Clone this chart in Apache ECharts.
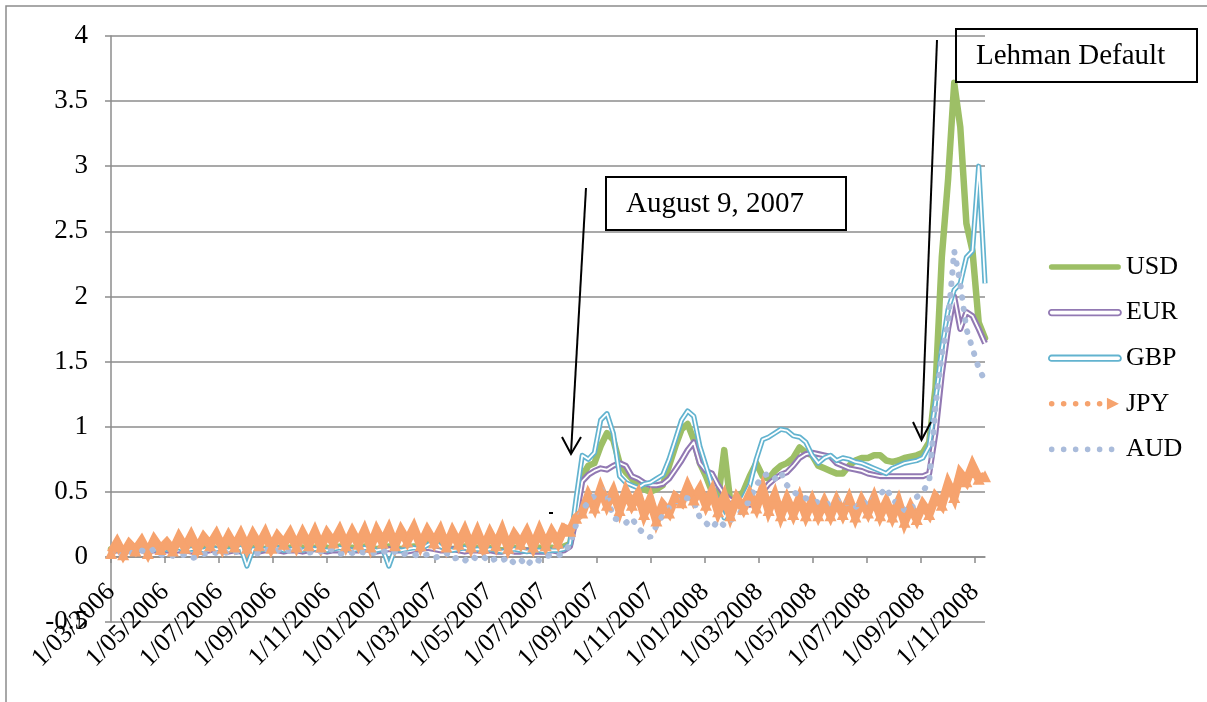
<!DOCTYPE html>
<html>
<head>
<meta charset="utf-8">
<title>Spreads 2006-2008</title>
<script src="https://cdn.jsdelivr.net/npm/echarts@6/dist/echarts.min.js"></script>
<style>
html,body{margin:0;padding:0;background:#fff;}
#chart{width:1207px;height:702px;}
</style>
</head>
<body>
<div id="chart"></div>
<script>
/* weekly observations, first one on 1 March 2006 */
var startYear = 2006, startMonth = 2, startDay = 1;
var weekCount = 142;

var tickLabels = ['1/03/2006','1/05/2006','1/07/2006','1/09/2006','1/11/2006','1/01/2007','1/03/2007',
	'1/05/2007','1/07/2007','1/09/2007','1/11/2007','1/01/2008','1/03/2008','1/05/2008','1/07/2008',
	'1/09/2008','1/11/2008'];

var usd = [0.06,0.07,0.05,0.08,0.06,0.07,0.06,0.08,0.07,0.06,
	0.07,0.06,0.08,0.07,0.06,0.07,0.08,0.06,0.07,0.08,
	0.07,0.06,0.08,0.07,0.07,0.06,0.08,0.07,0.06,0.07,
	0.08,0.07,0.06,0.07,0.08,0.07,0.06,0.08,0.07,0.07,
	0.06,0.08,0.07,0.06,0.07,0.08,0.07,0.06,0.07,0.08,
	0.07,0.1,0.12,0.09,0.07,0.06,0.07,0.08,0.06,0.07,
	0.06,0.07,0.06,0.05,0.06,0.07,0.06,0.05,0.06,0.07,
	0.06,0.07,0.06,0.08,0.1,0.35,0.62,0.7,0.72,0.85,
	0.95,0.9,0.72,0.65,0.6,0.55,0.52,0.5,0.52,0.55,
	0.7,0.85,0.98,1.02,0.9,0.72,0.62,0.5,0.45,0.82,
	0.42,0.45,0.5,0.62,0.72,0.62,0.6,0.66,0.7,0.72,
	0.76,0.84,0.8,0.78,0.7,0.68,0.66,0.64,0.64,0.7,
	0.74,0.76,0.76,0.78,0.78,0.74,0.73,0.74,0.76,0.77,
	0.78,0.8,0.88,1.3,2.3,2.9,3.64,3.3,2.56,2.35,
	1.8,1.68];

var eur = [0.04,0.05,0.04,0.05,0.06,0.05,0.04,0.05,0.04,0.05,
	0.04,0.05,0.05,0.04,0.05,0.04,0.05,0.06,0.05,0.04,
	0.05,0.04,0.05,0.05,0.04,0.05,0.06,0.05,0.04,0.05,
	0.05,0.04,0.05,0.06,0.05,0.04,0.05,0.05,0.06,0.05,
	0.05,0.06,0.05,0.04,0.05,0.06,0.05,0.05,0.04,0.05,
	0.06,0.07,0.06,0.05,0.05,0.06,0.05,0.04,0.05,0.05,
	0.04,0.05,0.04,0.04,0.05,0.04,0.04,0.05,0.04,0.04,
	0.04,0.05,0.04,0.05,0.08,0.3,0.58,0.63,0.66,0.68,
	0.67,0.7,0.72,0.7,0.62,0.6,0.57,0.55,0.55,0.56,
	0.6,0.67,0.74,0.82,0.88,0.72,0.66,0.64,0.55,0.48,
	0.44,0.43,0.42,0.4,0.42,0.5,0.56,0.6,0.63,0.65,
	0.7,0.76,0.79,0.8,0.79,0.78,0.77,0.72,0.7,0.68,
	0.67,0.66,0.64,0.63,0.62,0.62,0.62,0.62,0.62,0.62,
	0.62,0.62,0.64,0.95,1.4,1.75,2.0,1.75,1.88,1.85,
	1.75,1.64];

var gbp = [0.06,0.05,0.07,0.06,0.05,0.06,0.07,0.06,0.05,0.06,
	0.06,0.07,0.05,0.06,0.06,0.05,0.07,0.06,0.06,0.05,
	0.06,0.07,-0.07,0.06,0.05,0.06,0.06,0.07,0.05,0.06,
	0.06,0.05,0.07,0.06,0.06,0.05,0.06,0.07,0.06,0.05,
	0.06,0.07,0.06,0.05,0.06,-0.07,0.06,0.05,0.06,0.07,
	0.06,0.09,0.12,0.08,0.06,0.05,0.06,0.07,0.05,0.06,
	0.05,0.06,0.05,0.04,0.05,0.06,0.05,0.04,0.05,0.05,
	0.04,0.05,0.05,0.06,0.1,0.45,0.78,0.75,0.8,1.05,
	1.1,0.95,0.62,0.57,0.55,0.53,0.56,0.57,0.6,0.63,
	0.75,0.9,1.05,1.12,1.08,0.85,0.7,0.55,0.42,0.3,
	0.4,0.42,0.45,0.55,0.75,0.9,0.92,0.95,0.98,0.97,
	0.93,0.92,0.88,0.78,0.72,0.76,0.78,0.74,0.76,0.75,
	0.73,0.72,0.7,0.68,0.66,0.64,0.68,0.7,0.72,0.73,
	0.74,0.76,0.85,1.2,1.6,1.9,2.05,2.1,2.3,2.35,
	3.0,2.1];

var jpy = [0.03,0.11,0.02,0.1,0.05,0.12,0.03,0.13,0.06,0.11,
	0.05,0.15,0.07,0.16,0.06,0.15,0.09,0.17,0.07,0.16,
	0.08,0.17,0.07,0.17,0.09,0.18,0.07,0.16,0.1,0.18,
	0.08,0.18,0.09,0.19,0.08,0.18,0.11,0.2,0.09,0.19,
	0.1,0.2,0.08,0.2,0.11,0.21,0.09,0.2,0.12,0.22,
	0.09,0.2,0.11,0.2,0.08,0.19,0.1,0.2,0.08,0.19,
	0.07,0.18,0.09,0.2,0.07,0.17,0.1,0.19,0.08,0.2,
	0.09,0.19,0.11,0.22,0.2,0.3,
	0.34,0.47,0.38,0.52,0.4,0.5,0.36,0.5,0.4,0.48,
	0.33,0.44,0.28,0.4,0.34,0.46,0.42,0.54,0.44,0.52,
	0.4,0.5,0.35,0.46,0.32,0.45,0.37,0.48,0.38,0.52,
	0.36,0.47,0.32,0.44,0.33,0.45,0.32,0.43,0.32,0.42,
	0.32,0.43,0.33,0.44,0.31,0.43,0.34,0.45,0.32,0.42,
	0.31,0.42,0.27,0.38,0.29,0.4,
	0.33,0.46,0.4,0.56,0.46,0.64,0.58,0.7,0.6,0.62];

var aud = [0.02,0.03,0.01,0.04,0.02,0.05,0.03,0.06,0.02,0.0,
	0.01,0.0,0.02,-0.01,0.0,0.02,0.04,0.03,0.05,0.02,
	0.04,0.03,0.05,0.02,0.03,0.06,0.04,0.05,0.07,0.04,
	0.06,0.05,0.03,0.05,0.04,0.07,0.05,0.02,0.04,0.03,
	0.05,0.03,0.02,0.04,0.05,0.02,0.04,0.01,0.03,0.02,
	0.0,0.02,-0.01,0.01,0.03,-0.02,0.0,-0.03,0.01,-0.02,
	0.0,-0.04,-0.01,-0.03,0.0,-0.05,-0.02,-0.07,-0.01,-0.03,
	0.0,0.02,0.01,0.03,0.1,0.25,
	0.36,0.42,0.47,0.52,0.48,0.3,0.28,0.26,0.3,0.22,
	0.18,0.15,0.24,0.32,0.38,0.42,0.46,0.45,0.43,0.3,
	0.26,0.22,0.28,0.24,0.28,0.32,0.36,0.44,0.55,0.62,
	0.64,0.6,0.65,0.55,0.5,0.47,0.45,0.43,0.42,0.4,
	0.41,0.44,0.4,0.42,0.38,0.43,0.4,0.45,0.48,0.53,
	0.44,0.4,0.36,0.35,0.46,0.5,
	0.58,1.15,1.55,1.8,2.35,2.1,1.75,1.6,1.45,1.35];

var usdColor = '#9DBF66', eurColor = '#9279B3', gbpColor = '#62B3CF',
	jpyColor = '#F6A36E', audColor = '#AABCDB';

// 日期 -> 从2006年3月起的月数
function monthIndex(t){
	var d = new Date(t);
	var y = d.getUTCFullYear(), mo = d.getUTCMonth(), day = d.getUTCDate();
	var dim = new Date(Date.UTC(y, mo + 1, 0)).getUTCDate();
	return (y - startYear) * 12 + (mo - startMonth) + (day - 1) / dim;
}
var weekX = [];
for(var k=0;k<weekCount;k++){
	weekX.push(monthIndex(Date.UTC(startYear, startMonth, startDay) + k * 7 * 86400000));
}
function pairs(vals){
	var out = [];
	for(var i=0;i<vals.length;i++){
		out.push([weekX[i], vals[i]]);
	}
	return out;
}
var tickValues = tickLabels.map(function(s, i){ return i * 2; });

// 图例图标
var bbox = 'M0,0 M72,14 ';
function dot(cx, r){
	return 'M' + (cx - r) + ',7 A' + r + ',' + r + ' 0 1 0 ' + (cx + r) + ',7 A' + r + ',' + r + ' 0 1 0 ' + (cx - r) + ',7 Z ';
}
var barIcon = 'path://' + bbox + 'M2.5,4.3 L69.5,4.3 A2.7,2.7 0 0 1 69.5,9.7 L2.5,9.7 A2.7,2.7 0 0 1 2.5,4.3 Z';
var jpyIcon = 'path://' + bbox + dot(2.7,2.8) + dot(14.7,2.8) + dot(26.7,2.8) + dot(38.7,2.8) + dot(50.7,2.8) + 'M58,1 L70,7 L58,13 Z';
var audIcon = 'path://' + bbox + dot(2.7,2.8) + dot(14.7,2.8) + dot(26.7,2.8) + dot(38.7,2.8) + dot(50.7,2.8) + dot(62.7,2.8);

var serifFont = 'Liberation Serif';
var gridGray = '#8C8C8C';

var myChart = echarts.init(document.getElementById('chart'));
var option = {
	animation: false,
	backgroundColor: '#fff',
	grid: { left: 111, right: 222, top: 36, bottom: 80, containLabel: false, outerBoundsMode: 'none' },
	xAxis: {
		type: 'value',
		min: 0,
		max: weekX[weekX.length - 1],
		axisLine: { show: true, onZero: true, lineStyle: { color: gridGray, width: 1.5 } },
		axisTick: { show: true, length: 6, customValues: tickValues, lineStyle: { color: gridGray, width: 1.5 } },
		axisLabel: {
			customValues: tickValues,
			rotate: 45,
			margin: -34,
			color: '#000',
			fontFamily: serifFont,
			fontSize: 26,
			formatter: function(v){ return tickLabels[Math.round(v / 2)]; }
		},
		splitLine: { show: false }
	},
	yAxis: {
		type: 'value',
		min: -0.5,
		max: 4,
		interval: 0.5,
		axisLine: { show: true, lineStyle: { color: gridGray, width: 1.5 } },
		axisTick: { show: true, length: 6, lineStyle: { color: gridGray, width: 1.5 } },
		axisLabel: { margin: 23, color: '#000', fontFamily: serifFont, fontSize: 27 },
		splitLine: { show: true, lineStyle: { color: gridGray, width: 1.5 } }
	},
	legend: {
		orient: 'vertical',
		left: 1048,
		top: 252,
		padding: 0,
		itemWidth: 72,
		itemHeight: 14,
		itemGap: 15.6,
		selectedMode: false,
		textStyle: { fontFamily: serifFont, fontSize: 26, color: '#000', lineHeight: 30 },
		data: [
			{ name: 'USD', icon: barIcon, itemStyle: { color: usdColor, borderWidth: 0 } },
			{ name: 'EUR', icon: barIcon, itemStyle: { color: '#fff', borderColor: eurColor, borderWidth: 1.8 } },
			{ name: 'GBP', icon: barIcon, itemStyle: { color: '#fff', borderColor: gbpColor, borderWidth: 1.8 } },
			{ name: 'JPY', icon: jpyIcon, itemStyle: { color: jpyColor, borderWidth: 0 } },
			{ name: 'AUD', icon: audIcon, itemStyle: { color: audColor, borderWidth: 0 } }
		]
	},
	series: [
		{ name: 'USD', type: 'line', data: pairs(usd), symbol: 'none', color: usdColor,
			lineStyle: { color: usdColor, width: 6.5, join: 'round', cap: 'round' } },
		{ name: 'EUR', type: 'line', data: pairs(eur), symbol: 'none', color: eurColor,
			lineStyle: { color: eurColor, width: 6, join: 'round' } },
		{ name: 'EUR-core', type: 'line', data: pairs(eur), symbol: 'none', silent: true,
			lineStyle: { color: '#fff', width: 1.8, join: 'round' } },
		{ name: 'GBP', type: 'line', data: pairs(gbp), symbol: 'none', color: gbpColor,
			lineStyle: { color: gbpColor, width: 5.2, join: 'round' } },
		{ name: 'GBP-core', type: 'line', data: pairs(gbp), symbol: 'none', silent: true,
			lineStyle: { color: '#fff', width: 1.8, join: 'round' } },
		{ name: 'JPY', type: 'line', data: pairs(jpy), symbol: 'triangle', symbolSize: 12, color: jpyColor,
			itemStyle: { color: jpyColor, borderWidth: 0 },
			lineStyle: { color: jpyColor, width: 9, join: 'miter' } },
		{ name: 'AUD', type: 'line', data: pairs(aud), symbol: 'none', color: audColor,
			lineStyle: { color: audColor, width: 6, type: [0.5, 11], cap: 'round' } }
	],
	graphic: [
		{ type: 'rect', z: 100, shape: { x: 6, y: 6, width: 1300, height: 800 },
			style: { fill: 'none', stroke: '#8C8C8C', lineWidth: 1.5 } },
		{ type: 'rect', z: 100, shape: { x: 606, y: 177, width: 240, height: 53 },
			style: { fill: 'none', stroke: '#000', lineWidth: 2 } },
		{ type: 'text', z: 100, x: 626, y: 204,
			style: { text: 'August 9, 2007', fontFamily: serifFont, fontSize: 29, fill: '#000', verticalAlign: 'middle' } },
		{ type: 'rect', z: 100, shape: { x: 956, y: 29, width: 241, height: 53 },
			style: { fill: 'none', stroke: '#000', lineWidth: 2 } },
		{ type: 'text', z: 100, x: 976, y: 56,
			style: { text: 'Lehman Default', fontFamily: serifFont, fontSize: 29, fill: '#000', verticalAlign: 'middle' } },
		{ type: 'polyline', z: 100, shape: { points: [[586, 188], [571, 453]] },
			style: { stroke: '#000', lineWidth: 2, fill: 'none' } },
		{ type: 'polyline', z: 100, shape: { points: [[562, 437], [571, 454], [581, 437]] },
			style: { stroke: '#000', lineWidth: 2, fill: 'none' } },
		{ type: 'polyline', z: 100, shape: { points: [[937, 40], [921.5, 439]] },
			style: { stroke: '#000', lineWidth: 2, fill: 'none' } },
		{ type: 'polyline', z: 100, shape: { points: [[913, 422], [921.5, 440], [931, 422]] },
			style: { stroke: '#000', lineWidth: 2, fill: 'none' } },
		{ type: 'polyline', z: 100, shape: { points: [[549, 513], [553, 513]] },
			style: { stroke: '#000', lineWidth: 2, fill: 'none' } }
	]
};
myChart.setOption(option, true);
</script>
</body>
</html>
